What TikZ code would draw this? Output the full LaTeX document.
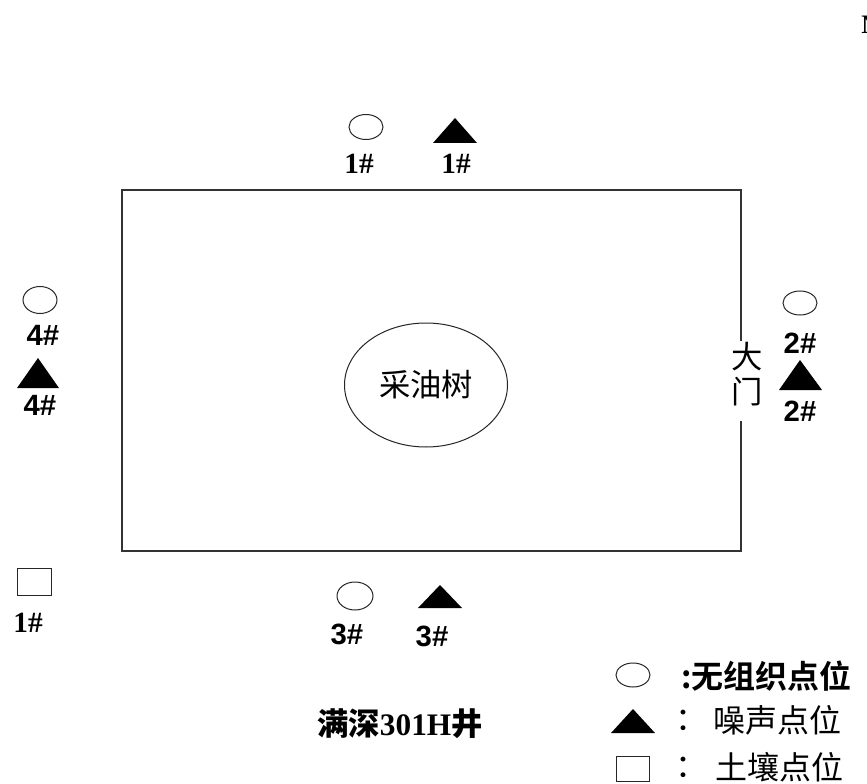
\documentclass[tikz,border=0pt]{standalone}
\usepackage{fontspec}
\setmainfont{Liberation Serif}
\newfontfamily\arialf{Liberation Sans}
\newfontfamily\cjk{Noto Sans CJK SC}
\newfontfamily\cjkb{Noto Sans CJK SC Bold}
\usetikzlibrary{shapes.geometric}
\newdimen\pxu \pxu=0.75pt
\begin{document}
\begin{tikzpicture}[x=0.75pt,y=-0.75pt]
\tikzset{
  frame/.style={draw=black!80, line width=1.5\pxu},
  pt/.style={draw=black!85, line width=1\pxu, ellipse, inner sep=0pt, minimum width=34\pxu, minimum height=25\pxu},
  lab/.style={inner sep=0pt, font=\fontsize{22}{22}\selectfont\bfseries},
  slab/.style={inner sep=0pt, font=\fontsize{22}{22}\selectfont\arialf\bfseries},
  cj/.style={inner sep=0pt, font=\fontsize{23.5}{23.5}\selectfont\cjk},
  lcj/.style={inner sep=0pt, font=\fontsize{24}{24}\selectfont\cjk},
  cjb/.style={inner sep=0pt, font=\fontsize{24}{24}\selectfont\cjkb},
  tri/.style={fill=black}
}
\useasboundingbox (0,0) rectangle (867,784);
\clip (0,0) rectangle (867,784);
\fill[white] (0,0) rectangle (867,784);

% frame with gate gap
\draw[frame] (741,341) -- (741,190) -- (122,190) -- (122,551) -- (741,551) -- (741,421);
\node[cj] (gate1) at (747,357) {大};
\node[cj] (gate2) at (747,392) {门};

% center
\node[draw=black!85, line width=1\pxu, ellipse, minimum width=163\pxu, minimum height=124\pxu] (tree) at (426,385) {};
\node[cj] (treelab) at (426,385) {采油树};

% top
\node[pt] (c1) at (366,127) {};
\node[lab] (c1l) at (359,164) {1\#};
\fill[tri] (433,143) -- (477,143) -- (455,118) -- cycle;
\node[lab] (t1l) at (456,164) {1\#};

% right
\node[pt, minimum height=24\pxu] (c2) at (800,303) {};
\node[slab] (c2l) at (800,343) {2\#};
\fill[tri] (779,390) -- (822,390) -- (800,360) -- cycle;
\node[slab] (t2l) at (800,411) {2\#};

% left
\node[pt, minimum height=27\pxu] (c4) at (40,300) {};
\node[slab] (c4l) at (43,335) {4\#};
\fill[tri] (17,388) -- (59,388) -- (38,358) -- cycle;
\node[slab] (t4l) at (40,405) {4\#};

% bottom
\node[pt, minimum width=36\pxu, minimum height=28\pxu] (c3) at (355,596) {};
\node[slab] (c3l) at (347,634) {3\#};
\fill[tri] (418,608) -- (462,608) -- (440,585) -- cycle;
\node[slab] (t3l) at (432,636) {3\#};

% soil point
\node[draw=black!85, line width=1\pxu, inner sep=0pt, minimum width=34\pxu, minimum height=27\pxu] (s1) at (34,582) {};
\node[lab] (s1l) at (28,623) {1\#};

% well name
\node[inner sep=0pt, font=\fontsize{23.5}{23.5}\selectfont\bfseries] (well) at (400,724) {{\cjkb 满深}301H{\cjkb 井}};

% legend
\node[pt, minimum height=24\pxu] (lc) at (633,675) {};
\node[cjb, anchor=west] (lct) at (681,676) {:无组织点位};
\fill[tri] (611,733) -- (655,733) -- (633,709) -- cycle;
\node[lcj] (ltc) at (691,720) {：};
\node[lcj, anchor=west] (ltt) at (713,720) {噪声点位};
\node[draw=black!85, line width=1\pxu, inner sep=0pt, minimum width=33\pxu, minimum height=25\pxu] (ls) at (633,769) {};
\node[lcj] (lsc) at (691,767) {：};
\node[lcj, anchor=west] (lst) at (715,767) {土壤点位};

% cut-off letter at top right (partly outside the picture, as in the reference)
\node[inner sep=0pt, anchor=west, font=\fontsize{20}{20}\selectfont\bfseries] (north) at (861,25) {N};
\end{tikzpicture}
\end{document}
